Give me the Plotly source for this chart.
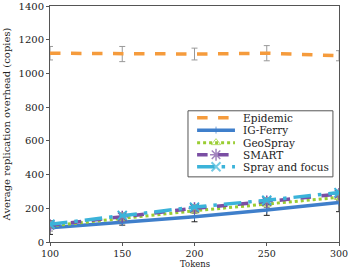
import plotly.graph_objects as go

tokens = [100, 150, 200, 250, 300]
series_names = ["Epidemic", "IG-Ferry", "GeoSpray", "SMART", "Spray and focus"]
epidemic = [1120, 1115, 1115, 1120, 1105]
epidemic_err = [40, 45, 35, 45, 30]
ig_ferry = [85, 115, 150, 190, 235]
ig_ferry_err = [40, 15, 30, 32, 55]
geospray = [95, 140, 185, 225, 265]
geospray_err = [30, 15, 15, 20, 20]
smart = [100, 150, 200, 240, 285]
smart_err = [20, 20, 20, 20, 20]
spray_focus = [105, 158, 207, 248, 293]
spray_focus_err = [15, 15, 15, 15, 15]
y_ticks = [0, 200, 400, 600, 800, 1000, 1200, 1400]

font_family = "DejaVu Serif"

styles = [
    dict(line=dict(color="#f59b3c", width=3.5, dash="dash"), marker=None, ecol="#999999"),
    dict(line=dict(color="#3f7fcb", width=3.5, dash="solid"),
         marker=dict(symbol="line-ns", size=5, color="#3f7fcb", line=dict(color="#3f7fcb", width=1)), ecol="#222222"),
    dict(line=dict(color="#9acd32", width=3, dash="dot"),
         marker=dict(symbol="triangle-up-open", size=8, color="#9acd32", line=dict(color="#9acd32", width=1)), ecol="#888888"),
    dict(line=dict(color="#7a4ea3", width=3.5, dash="dash"),
         marker=dict(symbol="asterisk-open", size=10, color="#7a4ea3", line=dict(color="#7a4ea3", width=1.5)), ecol="#999999"),
    dict(line=dict(color="#3bb3d9", width=3.5, dash="longdashdot"),
         marker=dict(symbol="x-thin-open", size=9, color="#3bb3d9", line=dict(color="#3bb3d9", width=2)), ecol="#999999"),
]
values = [epidemic, ig_ferry, geospray, smart, spray_focus]
errors = [epidemic_err, ig_ferry_err, geospray_err, smart_err, spray_focus_err]

fig = go.Figure()
for name, vals, errs, st in zip(series_names, values, errors, styles):
    kw = dict(x=tokens, y=vals, name=name, showlegend=False, line=st["line"],
              error_y=dict(type="data", array=errs, color=st["ecol"], thickness=1, width=3))
    if st["marker"] is None:
        kw["mode"] = "lines"
    else:
        kw["mode"] = "lines+markers"
        kw["marker"] = st["marker"]
    fig.add_trace(go.Scatter(**kw))

# Manual compact legend drawn on a hidden overlay axis (0..1 over the plot area)
leg_x0, leg_x1, leg_tx = 0.509, 0.640, 0.661
leg_y = [0.527, 0.474, 0.421, 0.370, 0.319]
for name, st, yy in zip(series_names, styles, leg_y):
    kw = dict(x=[leg_x0, (leg_x0 + leg_x1) / 2, leg_x1], y=[yy, yy, yy], xaxis="x2", yaxis="y2",
              showlegend=False, hoverinfo="skip", line=st["line"])
    if st["marker"] is None:
        kw["mode"] = "lines"
    else:
        m = dict(st["marker"])
        m["size"] = [0, m["size"], 0]
        kw["mode"] = "lines+markers"
        kw["marker"] = m
    fig.add_trace(go.Scatter(**kw))
    fig.add_annotation(x=leg_tx, y=yy, xref="paper", yref="paper", text=name, showarrow=False,
                       xanchor="left", yanchor="middle", font=dict(family=font_family, size=10.5, color="#222222"))

fig.add_shape(type="rect", xref="paper", yref="paper", x0=0.4775, x1=0.979, y0=0.276, y1=0.556,
              line=dict(color="#555555", width=1), fillcolor="rgba(255,255,255,0)", layer="below")

# x-axis title at the very bottom edge
fig.add_annotation(x=0.5, y=-0.118, xref="paper", yref="paper", text="Tokens", showarrow=False,
                   xanchor="center", yanchor="bottom", borderpad=0,
                   font=dict(family=font_family, size=8.5, color="#222222"))

fig.update_layout(
    width=348, height=270,
    margin=dict(l=50, r=9, t=6, b=28),
    paper_bgcolor="white", plot_bgcolor="white",
    font=dict(family=font_family, size=10, color="#222222"),
    showlegend=False,
    xaxis=dict(range=[100, 300], tickvals=tokens, ticks="outside", ticklen=3, tickcolor="#555555",
               showline=True, linecolor="#555555", mirror=True, showgrid=False, zeroline=False,
               tickfont=dict(size=9.5), ticklabeloverflow="allow", automargin=False),
    yaxis=dict(range=[0, 1400], tickvals=y_ticks, ticks="outside", ticklen=3, tickcolor="#555555",
               showline=True, linecolor="#555555", mirror=True, showgrid=False, zeroline=False,
               tickfont=dict(size=10), automargin=False,
               title=dict(text="Average replication overhead (copies)", font=dict(size=10), standoff=6)),
    xaxis2=dict(overlaying="x", range=[0, 1], visible=False, fixedrange=True),
    yaxis2=dict(overlaying="y", range=[0, 1], visible=False, fixedrange=True),
)

fig.write_html("out.html")
